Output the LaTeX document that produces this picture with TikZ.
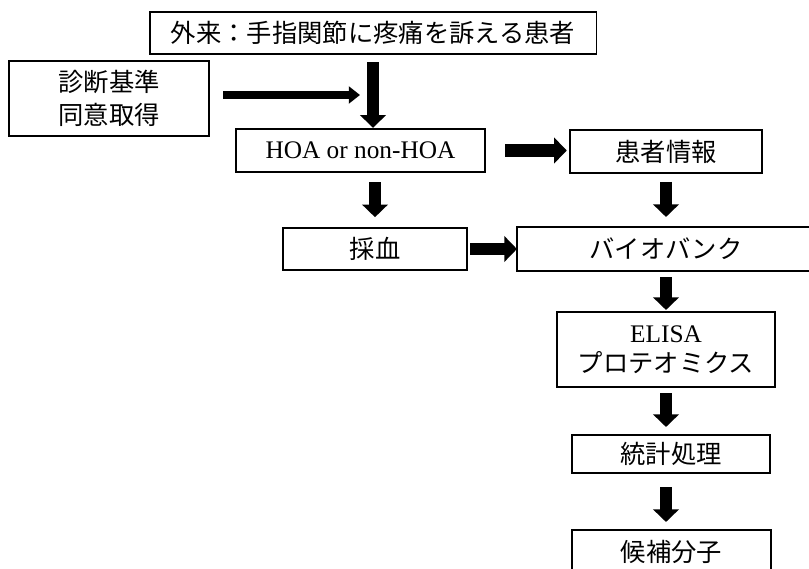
\documentclass[tikz,border=0pt]{standalone}
\usepackage{fontspec}
\setmainfont{Liberation Serif}
\newfontfamily\jp{Noto Sans CJK JP}
\usetikzlibrary{arrows.meta}

\begin{document}
\begin{tikzpicture}[x=0.025cm, y=-0.025cm,
    box/.style={draw, line width=0.8pt, inner sep=0pt, outer sep=0pt, align=center,
      font=\fontsize{18}{23}\selectfont},
    fat/.style={line width=9pt, -{Triangle[length=9pt,width=18pt]}},
    thin/.style={line width=5.5pt, -{Triangle[length=8pt,width=12pt]}}]

    \useasboundingbox (0,0) rectangle (809,569);
    \begin{scope}
    \clip (0,0) rectangle (809,569);

    \node[box, minimum width=11.15cm, minimum height=1.05cm] (a) at (373, 33) {\jp 外来：手指関節に疼痛を訴える患者};
    \node[box, minimum width=5cm, minimum height=1.875cm] (b) at (109, 98.5) {\jp 診断基準\\\jp 同意取得};
    \node[box, minimum width=6.225cm, minimum height=1.075cm] (c) at (360.5, 150.5) {HOA or non-HOA};
    \node[box, minimum width=4.8cm, minimum height=1.075cm] (d) at (666, 151.5) {\jp 患者情報};
    \node[box, minimum width=4.6cm, minimum height=1.05cm] (e) at (375, 249) {\jp 採血};
    \node[box, minimum width=7.45cm, minimum height=1.1cm] (f) at (666, 249) {\jp バイオバンク};
    \node[box, minimum width=5.45cm, minimum height=1.875cm] (g) at (666, 349.5) {ELISA\\[-2pt]\jp プロテオミクス};
    \node[box, minimum width=4.95cm, minimum height=0.95cm] (h) at (671, 454) {\jp 統計処理};
    \node[box, minimum width=4.975cm, minimum height=1.1cm] (i) at (671.5, 552) {\jp 候補分子};

    \coordinate (j) at (360, 95);

    \draw [fat, shorten <=0.2cm, shorten >=0.03cm] (a) to (c.north -| a.south);
    \draw [thin, shorten <=0.35cm] (b.east |- j) to (j);
    \draw [fat, shorten <=0.5cm, shorten >=0.08cm] (c) to (d.west |- c.east);
    \draw [fat, shorten <=0.25cm, shorten >=0.27cm] (c.south -| e.north) to (e.north);
    \draw [fat, shorten <=0.22cm, shorten >=0.25cm] (d) to (f.north -| d.south);
    \draw [fat, shorten <=0.08cm] (e) to (f.west |- e.east);
    \draw [fat, shorten <=0.15cm, shorten >=0.05cm] (f) to (g.north -| f.south);
    \draw [fat, shorten <=0.15cm, shorten >=0.2cm] (g) to (h.north -| g.south);
    \draw [fat, shorten <=0.35cm, shorten >=0.2cm] (h.south -| g.south) to (i.north -| g.south);
    \end{scope}

  \end{tikzpicture}
\end{document}
